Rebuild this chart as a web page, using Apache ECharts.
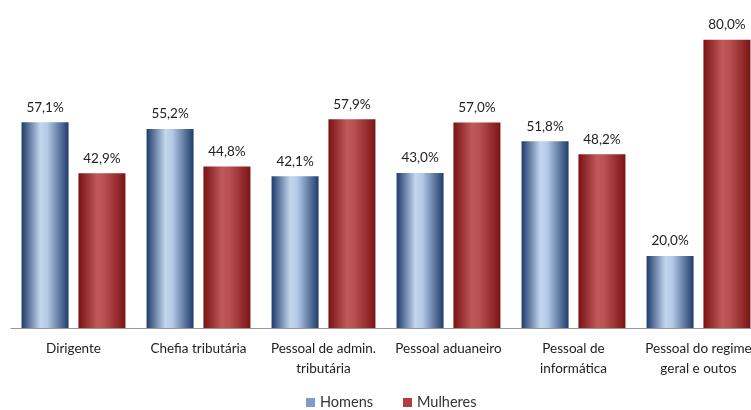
<!DOCTYPE html>
<html><head><meta charset="utf-8">
<script src="https://cdn.jsdelivr.net/npm/echarts@6/dist/echarts.min.js"></script>
<style>html,body{margin:0;padding:0;background:#fff}#c{width:751px;height:410px}</style>
</head><body><div id="c"></div>
<script>
const categories = ['Dirigente','Chefia tributária','Pessoal de admin.\ntributária','Pessoal aduaneiro','Pessoal de\ninformática','Pessoal do regime\ngeral e outos'];
const homens = [57.1, 55.2, 42.1, 43.0, 51.8, 20.0];
const mulheres = [42.9, 44.8, 57.9, 57.0, 48.2, 80.0];
const seriesNames = ['Homens','Mulheres'];

const FONT = 'Lato';
const blueGrad = new echarts.graphic.LinearGradient(0,0,1,0,[
  {offset:0,color:'#1f3b6b'},{offset:0.4,color:'#c3d6ee'},{offset:0.55,color:'#b3c9e6'},{offset:1,color:'#203c6c'}]);
const redGrad = new echarts.graphic.LinearGradient(0,0,1,0,[
  {offset:0,color:'#7a1214'},{offset:0.4,color:'#c0595a'},{offset:0.55,color:'#b95052'},{offset:1,color:'#7c1315'}]);
const fmt = p => p.value.toFixed(1).replace('.', ',') + '%';
const chart = echarts.init(document.getElementById('c'), null, {renderer:'canvas'});
chart.setOption({
  animation:false,
  textStyle:{fontFamily:FONT},
  grid:{left:11, width:750, top:0, bottom:82, containLabel:false, outerBoundsMode:'none'},
  legend:{top:390, left:301, padding:5, itemWidth:9, itemHeight:9, itemGap:30, icon:'rect',
    textStyle:{fontFamily:FONT, fontSize:14.5, color:'#333'},
    data:[{name:seriesNames[0], itemStyle:{color:'#7f9cc9'}},{name:seriesNames[1], itemStyle:{color:'#b33c3e'}}]},
  xAxis:{type:'category', data:categories,
    axisLine:{lineStyle:{color:'#999'}}, axisTick:{length:5, lineStyle:{color:'#999'}},
    axisLabel:{interval:0, margin:11, fontFamily:FONT, fontSize:13.5, color:'#222', lineHeight:19.5}},
  yAxis:{type:'value', min:0, max:91, show:false, splitLine:{show:false}},
  series:[
    {name:seriesNames[0], type:'bar', data:homens, barWidth:47, barGap:'21%',
     itemStyle:{color:blueGrad},
     label:{show:true, position:'top', distance:8, formatter:fmt, fontFamily:FONT, fontSize:13.5, color:'#222'}},
    {name:seriesNames[1], type:'bar', data:mulheres, barWidth:47,
     itemStyle:{color:redGrad},
     label:{show:true, position:'top', distance:8, formatter:fmt, fontFamily:FONT, fontSize:13.5, color:'#222'}}
  ]
});
</script></body></html>
